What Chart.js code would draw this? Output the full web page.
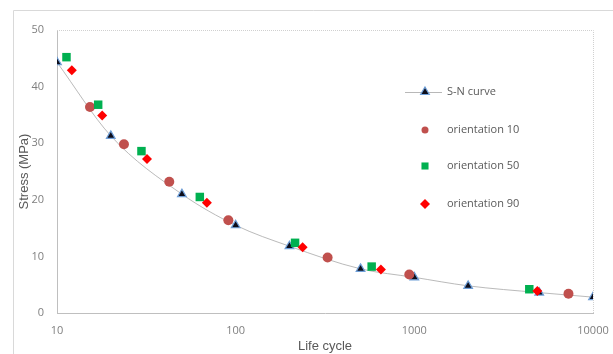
<!DOCTYPE html>
<html>
<head>
<meta charset="utf-8">
<script src="https://cdn.jsdelivr.net/npm/chart.js@4/dist/chart.umd.min.js"></script>
<style>
    html, body { margin: 0; padding: 0; background: #fff; }
    #wrap { width: 613px; height: 354px; position: relative; }
</style>
</head>
<body>
<div id="wrap"><canvas id="snChart" width="613" height="354"></canvas></div>
<script>
// S-N curve (life cycles vs stress)
const snCycles = [10, 20, 50, 100, 200, 500, 1000, 2000, 5000, 10000];
const snStress = [44.3, 31.3, 21.0, 15.5, 11.8, 7.8, 6.3, 4.8, 3.6, 2.8];

const o10Cycles = [15.3, 23.7, 42.5, 91, 327, 937, 7290];
const o10Stress = [36.4, 29.8, 23.2, 16.4, 9.8, 6.8, 3.4];

const o50Cycles = [11.3, 17, 29.7, 63, 215, 577, 4400];
const o50Stress = [45.2, 36.8, 28.6, 20.5, 12.4, 8.2, 4.2];

const o90Cycles = [12.1, 17.9, 31.9, 69, 237, 650, 4880];
const o90Stress = [42.9, 34.9, 27.2, 19.5, 11.6, 7.7, 3.9];

const xTicks = [10, 100, 1000, 10000];

const toPoints = (xs, ys) => xs.map((x, i) => ({ x: x, y: ys[i] }));

// outer frame + dotted plot border + legend drawn by hand
const decorPlugin = {
    id: 'decor',
    beforeDraw(chart) {
        const ctx = chart.ctx;
        ctx.save();
        ctx.strokeStyle = '#d9d9d9';
        ctx.lineWidth = 1;
        ctx.beginPath();
        ctx.moveTo(13.5, 360);
        ctx.lineTo(13.5, 10.5);
        ctx.lineTo(620, 10.5);
        ctx.stroke();
        ctx.restore();
    },
    afterDraw(chart) {
        const ctx = chart.ctx;
        const a = chart.chartArea;
        ctx.save();
        ctx.strokeStyle = '#d0d0d0';
        ctx.lineWidth = 1;
        ctx.setLineDash([1, 1]);
        ctx.beginPath();
        ctx.moveTo(a.left, Math.round(a.top) + 0.5);
        ctx.lineTo(Math.round(a.right) + 0.5, Math.round(a.top) + 0.5);
        ctx.lineTo(Math.round(a.right) + 0.5, a.bottom);
        ctx.stroke();
        ctx.setLineDash([]);

        // legend
        const mx = 425, tx = 447;
        const rows = [92, 130, 166, 204];
        ctx.font = '11px "Open Sans", sans-serif';
        ctx.textBaseline = 'middle';
        chart.data.datasets.forEach((ds, i) => {
            const y = rows[i];
            if (i === 0) {
                ctx.strokeStyle = '#a6a6a6';
                ctx.lineWidth = 0.8;
                ctx.beginPath();
                ctx.moveTo(405, y + 0.5);
                ctx.lineTo(442, y + 0.5);
                ctx.stroke();
            }
            ctx.fillStyle = ds.pointBackgroundColor;
            ctx.strokeStyle = ds.pointBorderColor;
            ctx.lineWidth = ds.pointBorderWidth;
            Chart.helpers.drawPoint(ctx, {
                pointStyle: ds.pointStyle,
                radius: ds.legendRadius,
                borderWidth: ds.pointBorderWidth
            }, mx, y);
            ctx.fillStyle = '#595959';
            ctx.fillText(ds.label, tx, y);
        });
        ctx.restore();
    }
};

const ctx = document.getElementById('snChart').getContext('2d');
new Chart(ctx, {
    type: 'scatter',
    data: {
        datasets: [
            {
                label: 'S-N curve',
                data: toPoints(snCycles, snStress),
                showLine: true,
                borderColor: '#a8a8a8',
                borderWidth: 0.8,
                cubicInterpolationMode: 'monotone',
                pointStyle: 'triangle',
                pointRadius: 5,
                legendRadius: 5,
                pointBackgroundColor: '#0d0d1a',
                pointBorderColor: '#6f9fd8',
                pointBorderWidth: 1.2,
                order: 4
            },
            {
                label: 'orientation 10',
                data: toPoints(o10Cycles, o10Stress),
                pointStyle: 'circle',
                pointRadius: 5,
                legendRadius: 3.5,
                pointBackgroundColor: '#c0504d',
                pointBorderColor: '#c0504d',
                pointBorderWidth: 0,
                order: 3
            },
            {
                label: 'orientation 50',
                data: toPoints(o50Cycles, o50Stress),
                pointStyle: 'rect',
                pointRadius: 6,
                legendRadius: 5,
                pointBackgroundColor: '#00b050',
                pointBorderColor: '#00b050',
                pointBorderWidth: 0,
                order: 2
            },
            {
                label: 'orientation 90',
                data: toPoints(o90Cycles, o90Stress),
                pointStyle: 'rectRot',
                pointRadius: 5,
                legendRadius: 5,
                pointBackgroundColor: '#ff0000',
                pointBorderColor: '#ff0000',
                pointBorderWidth: 0,
                order: 1
            }
        ]
    },
    options: {
        responsive: false,
        animation: false,
        layout: { padding: { top: 30, right: 20, left: 0, bottom: 0 } },
        plugins: {
            legend: { display: false },
            tooltip: { enabled: false }
        },
        scales: {
            x: {
                type: 'logarithmic',
                min: 10,
                max: 10000,
                afterBuildTicks: (scale) => {
                    scale.ticks = xTicks.map(v => ({ value: v }));
                },
                afterFit: (scale) => { scale.height = 41; },
                grid: { display: false },
                border: { display: true, color: '#bfbfbf', width: 1 },
                ticks: {
                    color: '#7f7f7f',
                    font: { family: 'Open Sans', size: 11 },
                    padding: 3,
                    maxRotation: 0,
                    callback: (v) => String(v)
                },
                title: {
                    display: true,
                    text: 'Life cycle',
                    color: '#595959',
                    font: { family: 'Liberation Sans', size: 13 },
                    padding: { top: 0, bottom: 0 }
                }
            },
            y: {
                min: 0,
                max: 50,
                afterFit: (scale) => { scale.width = 57; },
                grid: { display: false },
                border: { display: true, color: '#bfbfbf', width: 1 },
                ticks: {
                    stepSize: 10,
                    color: '#7f7f7f',
                    font: { family: 'Open Sans', size: 11 },
                    padding: 5
                },
                title: {
                    display: true,
                    text: 'Stress (MPa)',
                    color: '#595959',
                    font: { family: 'Liberation Sans', size: 13 },
                    padding: { top: 17, bottom: 0 }
                }
            }
        }
    },
    plugins: [decorPlugin]
});
</script>
</body>
</html>
